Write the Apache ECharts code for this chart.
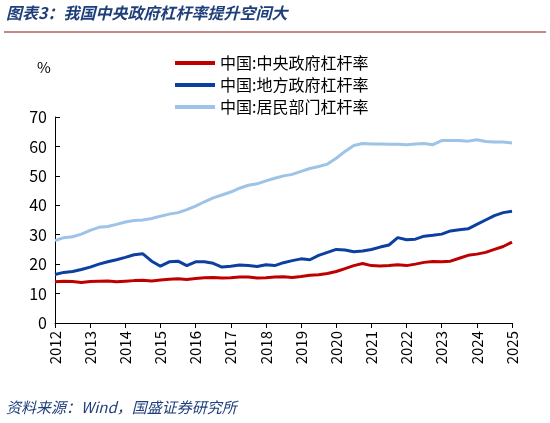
<!DOCTYPE html>
<html><head><meta charset="utf-8">
<script src="https://cdn.jsdelivr.net/npm/echarts@6/dist/echarts.min.js"></script>
<style>body{margin:0;background:#fff}#chart{width:550px;height:423px}</style>
</head><body>
<div id="chart"></div>
<script>
// 季度数据 2012Q1 - 2025Q1
var quarters = [];
for (var y = 2012; y <= 2025; y++) {
    for (var q = 1; q <= 4; q++) {
        if (y === 2025 && q > 1) break;
        quarters.push(y + 'Q' + q);
    }
}
var central = [14.0,14.2,14.1,13.8,14.1,14.2,14.3,14.0,14.2,14.4,14.5,14.3,14.6,14.9,15.0,14.8,15.1,15.4,15.5,15.3,15.4,15.6,15.6,15.3,15.4,15.6,15.7,15.5,15.8,16.2,16.4,16.8,17.5,18.5,19.5,20.2,19.5,19.4,19.5,19.8,19.5,20.0,20.6,20.9,20.8,21.0,22.0,23.0,23.4,24.0,25.0,26.0,27.5];
var local = [16.5,17.2,17.5,18.2,19.0,20.0,20.8,21.5,22.3,23.2,23.5,21.0,19.3,20.8,21.0,19.5,20.8,20.8,20.3,19.0,19.3,19.7,19.5,19.2,19.8,19.5,20.5,21.2,21.8,21.5,23.0,24.0,25.0,24.8,24.2,24.5,25.0,25.8,26.5,29.0,28.3,28.5,29.5,29.8,30.2,31.3,31.7,32.0,33.5,35.0,36.5,37.5,38.0];
var household = [28.0,29.0,29.3,30.2,31.5,32.5,32.8,33.5,34.3,34.8,35.0,35.5,36.3,37.0,37.5,38.5,39.7,41.2,42.5,43.5,44.5,45.8,46.8,47.3,48.3,49.2,50.0,50.5,51.5,52.5,53.2,54.0,56.0,58.3,60.3,61.0,60.8,60.8,60.7,60.7,60.6,60.8,61.0,60.6,62.0,62.0,62.0,61.8,62.3,61.7,61.5,61.5,61.2];

var chart = echarts.init(document.getElementById('chart'));
var font = 'Noto Sans CJK SC';
chart.setOption({
    animation: false,
    textStyle: { fontFamily: font },
    graphic: [
        { type: 'text', left: 6, top: 5, style: { text: '图表3：我国中央政府杠杆率提升空间大', fill: '#1f3f7a', font: 'italic bold 16px "Noto Sans CJK SC"' } },
        { type: 'line', shape: { x1: 4, y1: 32, x2: 546, y2: 32 }, style: { stroke: '#8a1010', lineWidth: 1 } },
        { type: 'text', left: 37, top: 60, style: { text: '%', fill: '#000', font: '15px "Noto Sans CJK SC"' } },
        { type: 'text', left: 6, top: 400, style: { text: '资料来源：Wind，国盛证券研究所', fill: '#1f3f7a', font: 'italic 15px "Noto Sans CJK SC"' } }
    ],
    legend: {
        orient: 'vertical', left: 170, top: 50, itemGap: 6, itemWidth: 40, itemHeight: 4,
        textStyle: { fontSize: 16, color: '#000' },
        icon: 'rect',
        data: ['中国:中央政府杠杆率', '中国:地方政府杠杆率', '中国:居民部门杠杆率']
    },
    grid: { left: 55, right: 38, top: 117, bottom: 100 },
    xAxis: {
        type: 'category', data: quarters, boundaryGap: false,
        axisLine: { lineStyle: { color: '#000' } },
        axisTick: { interval: 3, lineStyle: { color: '#000' } },
        axisLabel: { interval: 3, rotate: 90, color: '#000', fontSize: 15,
            formatter: function (v) { return v.slice(0, 4); } }
    },
    yAxis: {
        type: 'value', min: 0, max: 70, interval: 10,
        axisLine: { show: true, lineStyle: { color: '#000' } },
        axisTick: { show: true, inside: true, lineStyle: { color: '#000' } },
        splitLine: { show: false },
        axisLabel: { color: '#000', fontSize: 16 }
    },
    series: [
        { name: '中国:中央政府杠杆率', type: 'line', data: central, showSymbol: false, lineStyle: { width: 3, color: '#c00000' }, itemStyle: { color: '#c00000' } },
        { name: '中国:地方政府杠杆率', type: 'line', data: local, showSymbol: false, lineStyle: { width: 3, color: '#0b3fa0' }, itemStyle: { color: '#0b3fa0' } },
        { name: '中国:居民部门杠杆率', type: 'line', data: household, showSymbol: false, lineStyle: { width: 3, color: '#9dc3e6' }, itemStyle: { color: '#9dc3e6' } }
    ]
});
</script>
</body></html>
